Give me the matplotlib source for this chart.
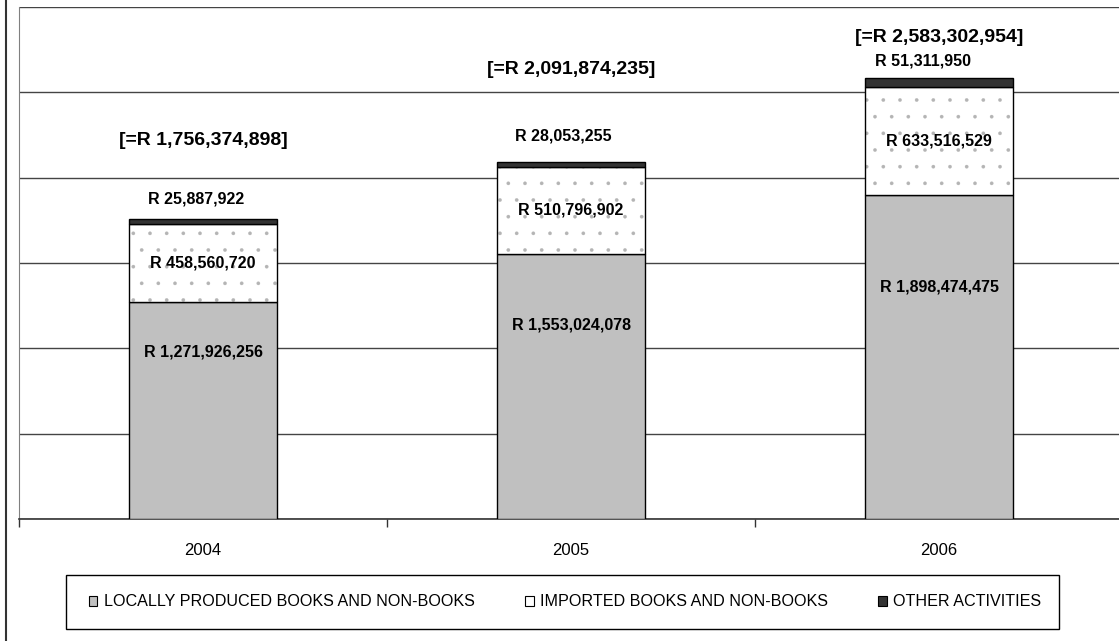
import matplotlib
matplotlib.use("Agg")
import matplotlib.pyplot as plt
from matplotlib.patches import Patch, Rectangle
from matplotlib.lines import Line2D
import numpy as np

# Book sector turnover by source, in Rand
years = ["2004", "2005", "2006"]
local = [1271926256, 1553024078, 1898474475]
imported = [458560720, 510796902, 633516529]
other = [25887922, 28053255, 51311950]
series_names = ["LOCALLY PRODUCED BOOKS AND NON-BOOKS",
                "IMPORTED BOOKS AND NON-BOOKS",
                "OTHER ACTIVITIES"]

# hand-placed label offsets (pixels)
total_lift = [79, 92, 41]
other_lift = [20, 26, 17]
other_shift = [-7, -8, -16]
local_drop = [50, 71, 92]

plt.rcParams['font.family'] = ['Liberation Sans', 'DejaVu Sans']
plt.rcParams['hatch.linewidth'] = 0.2

W, H = 1119, 641
fig = plt.figure(figsize=(W / 100, H / 100), dpi=100)
ax = fig.add_axes([19 / W, 1 - 519 / H, 1104 / W, 512 / H])

x = np.arange(len(years))
local = np.array(local)
imported = np.array(imported)
other = np.array(other)
width = 0.4

ax.bar(x, local, width, color='#c0c0c0', edgecolor='black', linewidth=1, zorder=3)
# dotted fill, then the outline on top
ax.bar(x, imported, width, bottom=local, color='white', edgecolor='#b4b4b4',
       linewidth=0, hatch='.', zorder=3)
ax.bar(x, imported, width, bottom=local, fill=False, edgecolor='black',
       linewidth=1, zorder=4)
ax.bar(x, other, width, bottom=local + imported, color='#333333',
       edgecolor='black', linewidth=1, zorder=4)

totals = local + imported + other
for i in range(len(years)):
    ax.annotate(f"[=R {totals[i]:,}]", (x[i], totals[i]),
                xytext=(0, total_lift[i]), textcoords='offset pixels',
                ha='center', va='center', fontsize=14, fontweight='bold')
    ax.annotate(f"R {other[i]:,}", (x[i], totals[i]),
                xytext=(other_shift[i], other_lift[i]), textcoords='offset pixels',
                ha='center', va='center', fontsize=11.5, fontweight='bold')
    ax.text(x[i], local[i] + imported[i] / 2, f"R {imported[i]:,}",
            ha='center', va='center', fontsize=11.5, fontweight='bold', zorder=5)
    ax.annotate(f"R {local[i]:,}", (x[i], local[i]),
                xytext=(0, -local_drop[i]), textcoords='offset pixels',
                ha='center', va='center', fontsize=11.5, fontweight='bold',
                zorder=5)

ax.set_xlim(-0.5, 2.5)
ax.set_ylim(0, 3e9)
ax.set_yticks(np.arange(0, 3.01e9, 0.5e9))
ax.yaxis.grid(True, color='#444444', linewidth=1, zorder=0)
ax.tick_params(axis='y', left=False, labelleft=False)

ax.set_xticks(x)
ax.set_xticklabels(years, fontsize=12)
ax.set_xticks([-0.5, 0.5, 1.5, 2.5], minor=True)
ax.tick_params(axis='x', which='major', length=0, pad=17)
ax.tick_params(axis='x', which='minor', length=6, width=1, color='#333333')

for s in ['top', 'right']:
    ax.spines[s].set_visible(False)
ax.spines['left'].set_color('#808080')
ax.spines['bottom'].set_color('#333333')
ax.spines['bottom'].set_linewidth(1.2)

# outer border on the left
fig.add_artist(Line2D([5.5 / W, 5.5 / W], [0, 1], transform=fig.transFigure,
                      color='#333333', linewidth=1.5))

# legend box
fig.add_artist(Rectangle((66 / W, 1 - 629 / H), 993 / W, 54 / H,
                         transform=fig.transFigure, fill=False,
                         edgecolor='black', linewidth=1))
handles = [Patch(facecolor='#c0c0c0', edgecolor='black', linewidth=0.8),
           Patch(facecolor='white', edgecolor='black', linewidth=0.8),
           Patch(facecolor='#333333', edgecolor='black', linewidth=0.8)]
fig.legend(handles, series_names, loc='center', ncol=3, frameon=False,
           bbox_to_anchor=(565 / W, 1 - 602 / H), fontsize=11.6,
           handlelength=0.55, handleheight=0.55, handletextpad=0.4,
           columnspacing=3.1, borderpad=0)

fig.savefig("out.png", dpi=100)
